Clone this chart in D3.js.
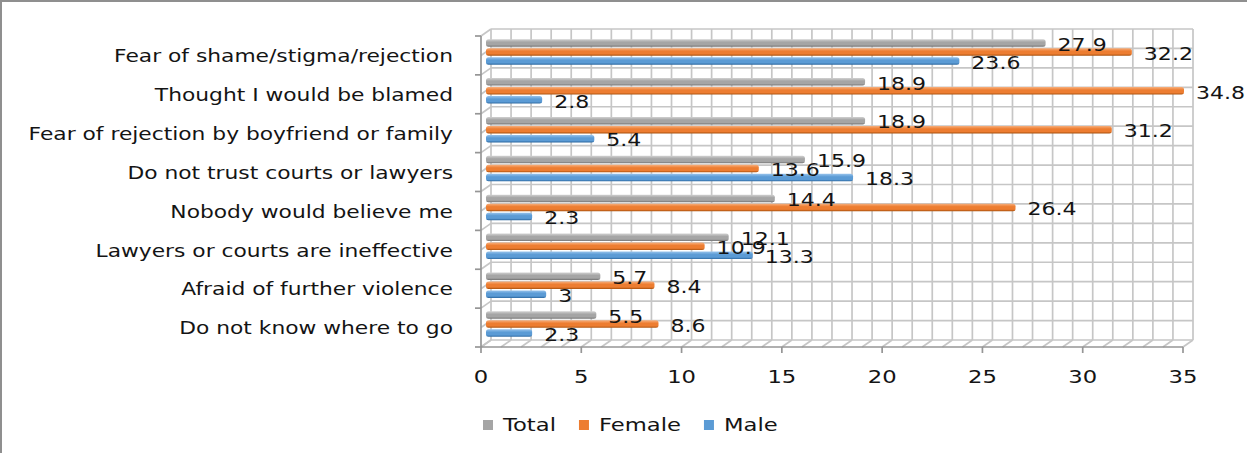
<!DOCTYPE html>
<html>
<head>
<meta charset="utf-8">
<script src="https://cdn.jsdelivr.net/npm/d3@7"></script>
<style>
  html, body { margin: 0; padding: 0; background: #fff; }
  svg { display: block; }
  text { font-family: "DejaVu Sans", Verdana, sans-serif; fill: #141414; }
</style>
</head>
<body>
<svg id="chart" width="1247" height="453"></svg>
<script>
// Reasons for not reporting, percent by sex
const categories = [
  "Fear of shame/stigma/rejection",
  "Thought I would be blamed",
  "Fear of rejection by boyfriend or family",
  "Do not trust courts or lawyers",
  "Nobody would believe me",
  "Lawyers or courts are ineffective",
  "Afraid of further violence",
  "Do not know where to go"
];
const seriesNames = ["Total", "Female", "Male"];
const totalValues  = [27.9, 18.9, 18.9, 15.9, 14.4, 12.1, 5.7, 5.5];
const femaleValues = [32.2, 34.8, 31.2, 13.6, 26.4, 10.9, 8.4, 8.6];
const maleValues   = [23.6, 2.8, 5.4, 18.3, 2.3, 13.3, 3, 2.3];
const xTicks = [0, 5, 10, 15, 20, 25, 30, 35];

const seriesColors = {
  Total:  { top: "#d2d2d2", mid: "#a5a5a5", bot: "#737373" },
  Female: { top: "#f7b07e", mid: "#ed7d31", bot: "#a9500c" },
  Male:   { top: "#97c3ec", mid: "#5b9bd5", bot: "#2b679f" }
};
const seriesValues = { Total: totalValues, Female: femaleValues, Male: maleValues };

const svg = d3.select("#chart");
const W = 1247, H = 453;
const SX = 1.26;           // horizontal text stretch

// front plane of the 3-D plot box and depth offset of the back wall
const front = { left: 481, right: 1183, top: 36, bottom: 347 };
const depth = { dx: 10, dy: -7 };

const x = d3.scaleLinear().domain([0, 35]).range([front.left, front.right]);
const y = d3.scaleBand().domain(categories).range([front.top, front.bottom]);
const sub = d3.scaleBand().domain(seriesNames)
  .range([y.bandwidth() / 2 - 12.8, y.bandwidth() / 2 + 12.8]).paddingInner(0.16);

// outer frame (top and left edges)
svg.append("line").attr("x1", 1).attr("x2", 1).attr("y1", 0).attr("y2", H)
  .attr("stroke", "#8f8f8f").attr("stroke-width", 2);
svg.append("line").attr("x1", 0).attr("x2", W).attr("y1", 1).attr("y2", 1)
  .attr("stroke", "#8f8f8f").attr("stroke-width", 2);

const grid = svg.append("g").attr("stroke", "#c6c6c6").attr("stroke-width", 1.7).attr("fill", "none");
const unitTicks = d3.range(0, 36);
const halfRows = d3.range(0, categories.length * 2 + 1).map(i => front.top + i * y.step() / 2);

// back wall: vertical gridlines every unit
grid.selectAll(".vg").data(unitTicks).join("line")
  .attr("x1", d => x(d) + depth.dx).attr("x2", d => x(d) + depth.dx)
  .attr("y1", front.top + depth.dy).attr("y2", front.bottom + depth.dy);
// back wall: horizontal gridlines every half category
grid.selectAll(".hg").data(halfRows).join("line")
  .attr("x1", x(0) + depth.dx).attr("x2", x(35) + depth.dx)
  .attr("y1", d => d + depth.dy).attr("y2", d => d + depth.dy);
// floor diagonals
grid.selectAll(".fg").data(unitTicks).join("line")
  .attr("x1", d => x(d)).attr("x2", d => x(d) + depth.dx)
  .attr("y1", front.bottom).attr("y2", front.bottom + depth.dy);
// left wall diagonals
grid.selectAll(".lg").data(halfRows).join("line")
  .attr("x1", x(0)).attr("x2", x(0) + depth.dx)
  .attr("y1", d => d).attr("y2", d => d + depth.dy);

// axes
const axisCol = "#969696";
svg.append("line").attr("x1", x(0)).attr("x2", x(0))
  .attr("y1", front.top).attr("y2", front.bottom)
  .attr("stroke", axisCol).attr("stroke-width", 1.7);
svg.append("line").attr("x1", x(0)).attr("x2", x(35))
  .attr("y1", front.bottom).attr("y2", front.bottom)
  .attr("stroke", axisCol).attr("stroke-width", 1.7);
const bandEdges = d3.range(0, categories.length + 1).map(i => front.top + i * y.step());
svg.selectAll(".ytick").data(bandEdges).join("line")
  .attr("x1", x(0) - 6).attr("x2", x(0)).attr("y1", d => d).attr("y2", d => d)
  .attr("stroke", axisCol).attr("stroke-width", 1.7);
svg.selectAll(".xtick").data(xTicks).join("line")
  .attr("x1", d => x(d)).attr("x2", d => x(d))
  .attr("y1", front.bottom).attr("y2", front.bottom + 6)
  .attr("stroke", axisCol).attr("stroke-width", 1.7);

function stretchedText(sel, fx, fy, size) {
  return sel.attr("transform", (d, i) => `translate(${fx(d, i)},${fy(d, i)}) scale(${SX},1)`)
    .attr("font-size", size).attr("dominant-baseline", "central");
}

// x tick labels
stretchedText(svg.selectAll(".xl").data(xTicks).join("text"), d => x(d), () => 377, 18)
  .attr("text-anchor", "middle").text(d => d);

// category labels
stretchedText(svg.selectAll(".cl").data(categories).join("text"),
  () => 453, d => y(d) + y.bandwidth() / 2 + 1, 17.3)
  .attr("text-anchor", "end").text(d => d);

// gradients for the bar faces
const defs = svg.append("defs");
seriesNames.forEach(s => {
  const g = defs.append("linearGradient").attr("id", "grad-" + s)
    .attr("x1", 0).attr("x2", 0).attr("y1", 0).attr("y2", 1);
  g.append("stop").attr("offset", "0%").attr("stop-color", seriesColors[s].top);
  g.append("stop").attr("offset", "40%").attr("stop-color", seriesColors[s].mid);
  g.append("stop").attr("offset", "75%").attr("stop-color", seriesColors[s].mid);
  g.append("stop").attr("offset", "100%").attr("stop-color", seriesColors[s].bot);
});

// bars sit halfway into the depth of the box
const rows = [];
categories.forEach((c, ci) => {
  seriesNames.forEach(s => rows.push({ c, s, v: seriesValues[s][ci] }));
});
const barH = sub.bandwidth();
const bars = svg.append("g");
bars.selectAll("rect").data(rows).join("rect")
  .attr("x", x(0) + depth.dx / 2)
  .attr("y", d => y(d.c) + sub(d.s) + depth.dy / 2)
  .attr("width", d => x(d.v) - x(0))
  .attr("height", barH)
  .attr("rx", 2.5).attr("ry", 2.5)
  .attr("fill", d => `url(#grad-${d.s})`);

// value labels
stretchedText(svg.append("g").selectAll("text").data(rows).join("text"),
  d => x(d.v) + depth.dx / 2 + 12,
  d => y(d.c) + sub(d.s) + depth.dy / 2 + barH / 2 + 2, 17.5)
  .attr("text-anchor", "start").text(d => d.v);

// legend
const legend = svg.append("g");
let lx = 483;
seriesNames.forEach(s => {
  legend.append("rect").attr("x", lx).attr("y", 420).attr("width", 10).attr("height", 10)
    .attr("fill", seriesColors[s].mid);
  const t = legend.append("text")
    .attr("transform", `translate(${lx + 20},425) scale(${SX},1)`)
    .attr("font-size", 18).attr("dominant-baseline", "central").text(s);
  lx += 20 + t.node().getComputedTextLength() * SX + 23;
});
</script>
</body>
</html>
